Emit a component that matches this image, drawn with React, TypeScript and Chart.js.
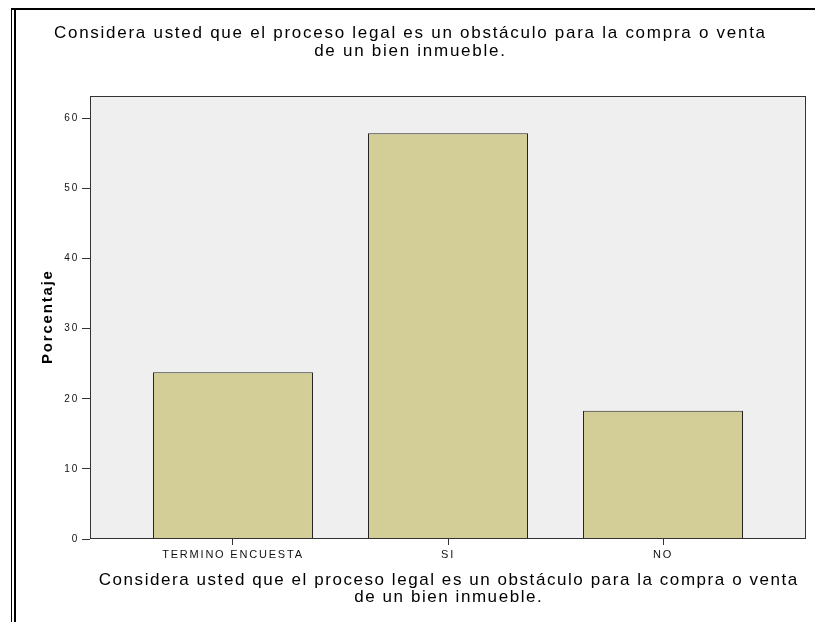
import React, { useEffect, useRef } from "react";
import { Chart, registerables } from "chart.js";

Chart.register(...registerables);

const TITLE_LINES = [
  "Considera usted que el proceso legal es un obstáculo para la compra o venta",
  "de un bien inmueble.",
];
const X_TITLE_LINES = [
  "Considera usted que el proceso legal es un obstáculo para la compra o venta",
  "de un bien inmueble.",
];
const Y_TITLE = "Porcentaje";
const categories = ["TERMINO ENCUESTA", "SI", "NO"];
const percentages = [23.8, 57.9, 18.3];
const yTickValues = [0, 10, 20, 30, 40, 50, 60];

const FONT = '"Liberation Sans", Arial, sans-serif';

function drawSpaced(
  ctx: CanvasRenderingContext2D,
  text: string,
  x: number,
  y: number,
  font: string,
  spacing: number,
  rotate = 0
) {
  ctx.save();
  ctx.translate(x, y);
  if (rotate) ctx.rotate(rotate);
  ctx.font = font;
  (ctx as any).letterSpacing = spacing + "px";
  ctx.fillStyle = "#000";
  ctx.textAlign = "center";
  ctx.textBaseline = "middle";
  ctx.fillText(text, spacing / 2, 0);
  ctx.restore();
}

export default function App() {
  const ref = useRef<HTMLCanvasElement>(null);

  useEffect(() => {
    document.body.style.margin = "0";
    const canvas = ref.current!;

    const decor = {
      id: "decor",
      beforeUpdate(chart: any) {
        chart.ctx.letterSpacing = "1.8px";
      },
      beforeDraw(chart: any) {
        const { ctx, chartArea: a } = chart;
        ctx.save();
        ctx.fillStyle = "#ffffff";
        ctx.fillRect(0, 0, chart.width, chart.height);
        ctx.fillStyle = "#efefef";
        ctx.fillRect(a.left, a.top, a.right - a.left, a.bottom - a.top);
        ctx.restore();
        ctx.letterSpacing = "1.8px";
      },
      afterDraw(chart: any) {
        const { ctx, chartArea: a } = chart;
        ctx.save();
        ctx.letterSpacing = "0px";
        // plot frame
        ctx.strokeStyle = "#333333";
        ctx.lineWidth = 1;
        const l = Math.round(a.left) + 0.5;
        const t = Math.round(a.top) + 0.5;
        const r = Math.round(a.right) - 0.5;
        const b = Math.round(a.bottom) - 0.5;
        ctx.strokeRect(l, t, r - l, b - t);
        // outer page frame
        ctx.strokeStyle = "#000";
        ctx.lineWidth = 1;
        ctx.beginPath();
        ctx.moveTo(11.5, 8);
        ctx.lineTo(11.5, chart.height);
        ctx.stroke();
        ctx.lineWidth = 2;
        ctx.beginPath();
        ctx.moveTo(15, 9);
        ctx.lineTo(15, chart.height);
        ctx.stroke();
        ctx.beginPath();
        ctx.moveTo(11, 9);
        ctx.lineTo(815, 9);
        ctx.stroke();
        ctx.restore();

        // titles
        const cx = chart.width / 2;
        const titleFont = "17px " + FONT;
        drawSpaced(ctx, TITLE_LINES[0], cx, 33, titleFont, 1.73);
        drawSpaced(ctx, TITLE_LINES[1], cx, 51, titleFont, 1.73);
        const xc = (a.left + a.right) / 2;
        drawSpaced(ctx, X_TITLE_LINES[0], xc, 580, titleFont, 1.56);
        drawSpaced(ctx, X_TITLE_LINES[1], xc, 597, titleFont, 1.56);
        drawSpaced(ctx, Y_TITLE, 48, (a.top + a.bottom) / 2, "bold 15px " + FONT, 1.8, -Math.PI / 2);
      },
    };

    const chart = new Chart(canvas, {
      type: "bar",
      data: {
        datasets: [
          {
            label: "Porcentaje",
            data: categories.map((c, i) => ({ x: i, y: percentages[i] })),
            backgroundColor: "#d3ce98",
            borderColor: "#222222",
            borderWidth: 1,
            barPercentage: 0.7441,
            categoryPercentage: 1,
          },
        ],
      },
      options: {
        animation: false,
        responsive: false,
        devicePixelRatio: 1,
        layout: { padding: { top: 96, right: 13, left: 0, bottom: 0 } },
        plugins: {
          legend: { display: false },
          title: { display: false },
          tooltip: { enabled: false },
        },
        scales: {
          x: {
            type: "linear",
            min: -0.665,
            max: 2.665,
            offset: false,
            afterFit: (s: any) => {
              s.height = 83;
            },
            afterBuildTicks: (s: any) => {
              s.ticks = categories.map((c, i) => ({ value: i }));
            },
            border: { display: false },
            grid: {
              offset: false,
              drawOnChartArea: false,
              drawTicks: true,
              tickLength: 6,
              color: "#333333",
            },
            ticks: {
              autoSkip: false,
              maxRotation: 0,
              padding: 3,
              color: "#111111",
              font: { family: FONT, size: 11 },
              callback: (v: any) => categories[v] ?? "",
            },
          },
          y: {
            min: 0,
            max: 63.2,
            afterFit: (s: any) => {
              s.width = 90;
            },
            afterBuildTicks: (s: any) => {
              s.ticks = yTickValues.map((v) => ({ value: v }));
            },
            border: { display: false },
            grid: {
              drawOnChartArea: false,
              drawTicks: true,
              tickLength: 8,
              color: "#333333",
            },
            ticks: {
              padding: 3,
              color: "#111111",
              font: { family: FONT, size: 10 },
            },
          },
        },
      },
      plugins: [decor],
    } as any);

    return () => chart.destroy();
  }, []);

  return (
    <div style={{ width: 819, height: 622 }}>
      <canvas ref={ref} width={819} height={622} style={{ display: "block" }} />
    </div>
  );
}
